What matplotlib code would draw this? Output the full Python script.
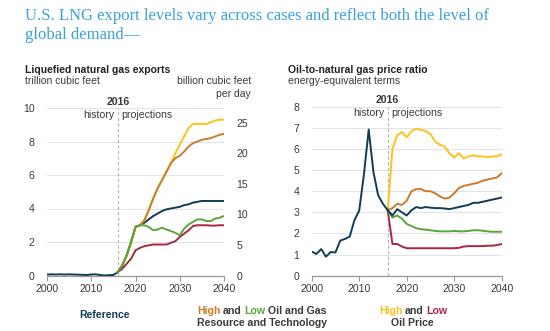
import numpy as np
import matplotlib
matplotlib.use("Agg")
import matplotlib.pyplot as plt
from matplotlib.transforms import IdentityTransform

plt.rcParams['font.family'] = ['Liberation Sans', 'DejaVu Sans']

# ---------------- data ----------------
years_all = list(range(2000, 2041))
years_proj = list(range(2016, 2041))

# LNG exports, trillion cubic feet
lng_reference = [0.06, 0.07, 0.06, 0.07, 0.06, 0.07, 0.06, 0.05, 0.04, 0.03,
                 0.06, 0.07, 0.03, 0.00, 0.02, 0.03,
                 0.2, 0.6, 1.2, 2.0, 2.9, 3.0, 3.15, 3.35, 3.55, 3.7,
                 3.85, 3.95, 4.0, 4.05, 4.1, 4.2, 4.25, 4.35, 4.4, 4.45,
                 4.45, 4.45, 4.45, 4.45, 4.45]
lng_high_resource = [0.2, 0.6, 1.2, 2.0, 2.9, 3.0, 3.3, 3.9, 4.6, 5.2,
                     5.7, 6.2, 6.7, 7.0, 7.15, 7.4, 7.7, 7.9, 8.0, 8.1,
                     8.15, 8.2, 8.3, 8.4, 8.45]
lng_low_resource = [0.2, 0.6, 1.2, 2.0, 2.9, 3.0, 3.0, 2.9, 2.7, 2.75,
                    2.85, 2.75, 2.65, 2.55, 2.4, 2.8, 3.05, 3.2, 3.35, 3.35,
                    3.25, 3.25, 3.4, 3.45, 3.55]
lng_high_oil = [0.2, 0.6, 1.2, 2.0, 2.9, 3.0, 3.3, 3.9, 4.6, 5.2,
                5.7, 6.2, 6.7, 7.3, 7.8, 8.3, 8.8, 9.05, 9.05, 9.05,
                9.05, 9.15, 9.25, 9.3, 9.3]
lng_low_oil = [0.2, 0.4, 0.7, 1.0, 1.5, 1.65, 1.75, 1.8, 1.85, 1.85,
               1.85, 1.85, 1.95, 2.05, 2.3, 2.5, 2.7, 2.95, 3.0, 3.0,
               3.0, 2.98, 2.98, 3.0, 3.0]

# Oil-to-natural gas price ratio, energy-equivalent terms
ratio_reference = [1.14, 1.03, 1.26, 0.9, 1.12, 1.1, 1.66, 1.74, 1.85, 2.63,
                   3.08, 4.8, 6.92, 4.9, 3.8, 3.4,
                   3.1, 2.85, 3.15, 3.0, 2.85, 3.1, 3.25, 3.2, 3.25, 3.22,
                   3.2, 3.2, 3.18, 3.15, 3.2, 3.25, 3.3, 3.35, 3.45, 3.45,
                   3.5, 3.55, 3.6, 3.65, 3.7]
ratio_high_resource = [3.1, 3.2, 3.4, 3.35, 3.55, 4.0, 4.1, 4.1, 4.0, 4.0,
                       3.9, 3.75, 3.65, 3.7, 3.9, 4.15, 4.25, 4.3, 4.35, 4.4,
                       4.5, 4.55, 4.6, 4.65, 4.85]
ratio_low_resource = [3.1, 2.75, 2.85, 2.7, 2.45, 2.35, 2.25, 2.2, 2.18, 2.15,
                      2.12, 2.1, 2.1, 2.1, 2.12, 2.1, 2.1, 2.12, 2.15, 2.15,
                      2.13, 2.1, 2.08, 2.08, 2.08]
ratio_high_oil = [3.1, 6.0, 6.65, 6.8, 6.55, 6.85, 6.95, 6.9, 6.85, 6.7,
                  6.35, 6.2, 6.1, 5.8, 5.6, 5.8, 5.55, 5.65, 5.7, 5.65,
                  5.65, 5.6, 5.65, 5.65, 5.75]
ratio_low_oil = [3.1, 1.5, 1.5, 1.38, 1.3, 1.3, 1.3, 1.3, 1.3, 1.3,
                 1.3, 1.3, 1.3, 1.3, 1.3, 1.32, 1.38, 1.4, 1.4, 1.4,
                 1.4, 1.42, 1.42, 1.45, 1.5]

x_ticks = [2000, 2010, 2020, 2030, 2040]
lng_ticks = [0, 2, 4, 6, 8, 10]
bcfd_ticks = [0, 5, 10, 15, 20, 25]
ratio_ticks = [0, 1, 2, 3, 4, 5, 6, 7, 8]

# ---------------- styles ----------------
C_REF = '#0f3d56'
C_HRES = '#c97d2c'
C_LRES = '#5aa63b'
C_HOIL = '#fdc21c'
C_LOIL = '#a8283f'
C_TEXT = '#3a3a3a'
C_GRID = '#e3e3e3'
C_TITLE = '#3aa2d9'
LW = 1.4
FS = 7.6

W, H = 550, 331
fig = plt.figure(figsize=(W / 100, H / 100), dpi=100)
fig.patch.set_facecolor('white')


def px_axes(left, top, right, bottom):
    return fig.add_axes([left / W, 1 - bottom / H, (right - left) / W, (bottom - top) / H])


def style_axes(ax, ymax, yticks):
    ax.set_xlim(2000, 2040)
    ax.set_ylim(0, ymax)
    ax.set_xticks(x_ticks)
    ax.set_yticks(yticks)
    for s in ('top', 'right', 'left'):
        ax.spines[s].set_visible(False)
    ax.spines['bottom'].set_color('#9a9a9a')
    ax.spines['bottom'].set_linewidth(0.9)
    ax.tick_params(axis='x', direction='out', length=3.5, width=0.8, color='#9a9a9a',
                   labelsize=FS, labelcolor=C_TEXT, pad=2.5)
    ax.tick_params(axis='y', length=0, labelsize=FS, labelcolor=C_TEXT, pad=9)
    ax.grid(axis='y', color=C_GRID, linewidth=0.8)
    ax.set_axisbelow(True)
    ax.axvline(2016, ymin=0, ymax=1.0, color='#b5b5b5', linestyle=(0, (3, 2)),
               linewidth=0.8, clip_on=False, zorder=1)
    ax.text(2016, ymax * 1.008, '2016', ha='center', va='bottom', fontsize=FS,
            fontweight='bold', color=C_TEXT)
    ax.text(2015.2, ymax * 0.99, 'history', ha='right', va='top', fontsize=FS,
            color=C_TEXT)
    ax.text(2016.8, ymax * 0.99, 'projections', ha='left', va='top', fontsize=FS,
            color=C_TEXT)


# ---------------- left panel: LNG exports ----------------
ax1 = px_axes(47, 108, 224, 275.5)
style_axes(ax1, 10, lng_ticks)
ax1.plot(years_all, lng_reference, color=C_REF, lw=LW, zorder=3)
ax1.plot(years_proj, lng_high_oil, color=C_HOIL, lw=LW, zorder=3)
ax1.plot(years_proj, lng_high_resource, color=C_HRES, lw=LW, zorder=4)
ax1.plot(years_proj, lng_low_oil, color=C_LOIL, lw=LW, zorder=4)
ax1.plot(years_proj, lng_low_resource, color=C_LRES, lw=LW, zorder=5)

sec = ax1.secondary_yaxis('right', functions=(lambda t: t * 1000 / 365,
                                               lambda b: b * 365 / 1000))
sec.set_yticks(bcfd_ticks)
sec.spines['right'].set_visible(False)
sec.tick_params(length=0, labelsize=FS, labelcolor=C_TEXT, pad=9)

fig.text(25 / W, 1 - 70 / H, 'Liquefied natural gas exports', fontsize=7.5,
         fontweight='bold', color='#222222', va='center')
fig.text(25 / W, 1 - 81 / H, 'trillion cubic feet', fontsize=7.5, color=C_TEXT, va='center')
fig.text(251 / W, 1 - 81 / H, 'billion cubic feet', fontsize=7.5, color=C_TEXT,
         va='center', ha='right')
fig.text(251 / W, 1 - 94 / H, 'per day', fontsize=7.5, color=C_TEXT,
         va='center', ha='right')

# ---------------- right panel: price ratio ----------------
ax2 = px_axes(311.7, 106.7, 501.7, 275.7)
style_axes(ax2, 8, ratio_ticks)
ax2.plot(years_proj, ratio_high_oil, color=C_HOIL, lw=LW, zorder=3)
ax2.plot(years_proj, ratio_high_resource, color=C_HRES, lw=LW, zorder=3)
ax2.plot(years_proj, ratio_low_oil, color=C_LOIL, lw=LW, zorder=3)
ax2.plot(years_proj, ratio_low_resource, color=C_LRES, lw=LW, zorder=4)
ax2.plot(years_all, ratio_reference, color=C_REF, lw=LW, zorder=5)

fig.text(288 / W, 1 - 70 / H, 'Oil-to-natural gas price ratio', fontsize=7.5,
         fontweight='bold', color='#222222', va='center')
fig.text(288 / W, 1 - 81 / H, 'energy-equivalent terms', fontsize=7.5, color=C_TEXT,
         va='center')

# ---------------- title ----------------
fig.text(25 / W, 1 - 8 / H,
         'U.S. LNG export levels vary across cases and reflect both the level of\nglobal demand\u2014',
         family=['Liberation Serif', 'DejaVu Serif'], fontsize=12, color=C_TITLE,
         va='top', ha='left', linespacing=1.25)

# ---------------- case labels ----------------
renderer = fig.canvas.get_renderer()


def colored_line(x, y, parts, size=7.6):
    """Draw a run of differently coloured words starting at pixel (x, y)."""
    for word, color in parts:
        t = fig.text(x, H - y, word, transform=IdentityTransform(), fontsize=size,
                     fontweight='bold', color=color, va='center', ha='left')
        bb = t.get_window_extent(renderer)
        x = bb.x1 + 2.5


fig.text(105 / W, 1 - 315 / H, 'Reference', fontsize=7.6, fontweight='bold',
         color=C_REF, ha='center', va='center')
colored_line(197, 311, [('High', C_HRES), ('and', C_TEXT), ('Low', C_LRES),
                        ('Oil and Gas', C_TEXT)])
colored_line(197, 323, [('Resource and Technology', C_TEXT)])
colored_line(379, 311, [('High', C_HOIL), ('and', C_TEXT), ('Low', C_LOIL)])
fig.text(412.5 / W, 1 - 322.5 / H, 'Oil Price', fontsize=7.6, fontweight='bold',
         color=C_TEXT, ha='center', va='center')

fig.savefig('out.png', dpi=100, facecolor='white')
